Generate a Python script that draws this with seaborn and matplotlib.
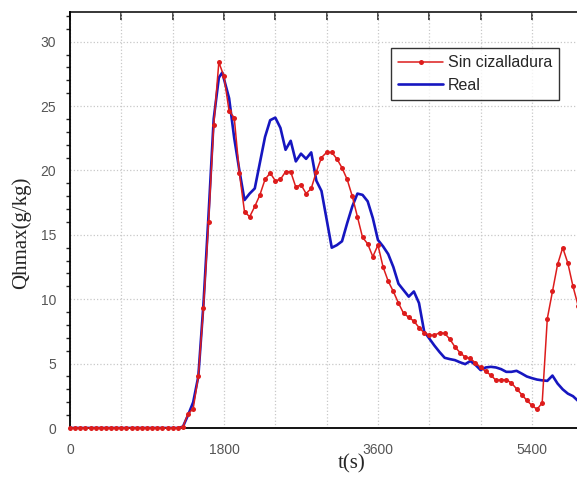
import numpy as np
import pandas as pd
import matplotlib
matplotlib.use("Agg")
import matplotlib.pyplot as plt
import seaborn as sns
from matplotlib.ticker import MultipleLocator

# red series: one value every 60 s
red_t = [60 * i for i in range(100)]
red_q = [0.0] * 22 + [
    0.1, 1.1, 1.5, 4.0, 9.3, 16.0, 23.5, 28.4, 27.3, 24.6,
    24.1, 19.8, 16.8, 16.4, 17.2, 18.1, 19.3, 19.8, 19.2, 19.3,
    19.9, 19.9, 18.7, 18.9, 18.2, 18.6, 19.9, 21.0, 21.4, 21.4,
    20.9, 20.2, 19.3, 18.0, 16.4, 14.8, 14.3, 13.3, 14.2, 12.5,
    11.4, 10.6, 9.7, 8.9, 8.6, 8.3, 7.8, 7.4, 7.2, 7.2,
    7.4, 7.35, 6.9, 6.3, 5.85, 5.5, 5.4, 5.05, 4.7, 4.4,
    4.1, 3.7, 3.75, 3.75, 3.5, 3.05, 2.6, 2.15, 1.75, 1.45,
    1.95, 8.5, 10.6, 12.7, 14.0, 12.8, 11.0, 9.5,
]

blue_t = [0, 1260, 1320, 1380, 1440, 1500, 1560, 1620, 1680, 1740, 1780,
          1860, 1920, 1980, 2040, 2100, 2160, 2220, 2280, 2340, 2400,
          2460, 2520, 2580, 2640, 2700, 2760, 2820, 2880, 2940, 3000,
          3060, 3120, 3180, 3240, 3300, 3360, 3420, 3480, 3540, 3600,
          3660, 3720, 3780, 3840, 3900, 3960, 4020, 4080, 4140, 4200,
          4260, 4320, 4380, 4440, 4500, 4560, 4620, 4680, 4740, 4800,
          4860, 4920, 4980, 5040, 5100, 5160, 5220, 5280, 5340, 5400,
          5460, 5520, 5580, 5640, 5700, 5760, 5820, 5880, 5940]
blue_q = [0.0, 0.0, 0.1, 1.0, 2.0, 4.0, 9.6, 16.6, 24.0, 27.2, 27.6,
          25.6, 22.5, 20.0, 17.7, 18.2, 18.6, 20.6, 22.6, 23.9, 24.1,
          23.3, 21.6, 22.3, 20.7, 21.3, 20.9, 21.4, 19.2, 18.4, 16.2,
          14.0, 14.2, 14.5, 15.9, 17.2, 18.2, 18.1, 17.6, 16.3, 14.6,
          14.1, 13.5, 12.5, 11.2, 10.7, 10.2, 10.6, 9.7, 7.5, 6.95,
          6.4, 5.9, 5.45, 5.35, 5.27, 5.1, 4.96, 5.2, 4.9, 4.5,
          4.7, 4.75, 4.7, 4.57, 4.36, 4.36, 4.44, 4.23, 4.0, 3.87,
          3.76, 3.7, 3.66, 4.07, 3.45, 3.0, 2.67, 2.47, 2.1]

x_labels = ["0", "1800", "3600", "5400"]

red_df = pd.DataFrame({"t": red_t, "q": red_q})
blue_df = pd.DataFrame({"t": blue_t, "q": blue_q})

sns.set_style("white")
plt.rcParams["font.family"] = ["Liberation Sans", "DejaVu Sans"]

fig = plt.figure(figsize=(5.77, 4.86), dpi=100)
ax = fig.add_axes([70 / 577, 1 - 428 / 486, 1 - 70 / 577, (428 - 12) / 486])

sns.lineplot(data=red_df, x="t", y="q", ax=ax, color="#dd1c1c", linewidth=1.1,
             marker="o", markersize=3.6, markeredgewidth=0, label="Sin cizalladura",
             clip_on=False, zorder=3)
sns.lineplot(data=blue_df, x="t", y="q", ax=ax, color="#1616c0", linewidth=1.9,
             label="Real", zorder=2)

ax.set_xlim(0, 5927)
ax.set_ylim(0, 32.3)

ax.xaxis.set_major_locator(MultipleLocator(600))
ax.set_xticklabels([x_labels[int(v // 1800)] if v % 1800 == 0 and v <= 5400 else ""
                    for v in ax.get_xticks()])
ax.yaxis.set_major_locator(MultipleLocator(5))
ax.yaxis.set_minor_locator(MultipleLocator(1))

ax.tick_params(axis="x", which="major", direction="out", length=6, width=1.2,
               labelsize=10, labelcolor="#555555", pad=5, top=False)
ax.tick_params(axis="y", which="major", direction="out", length=6, width=1.2,
               labelsize=10, labelcolor="#555555", pad=4)
ax.tick_params(axis="y", which="minor", direction="out", length=3, width=1, left=True)

# top axis ticks point inward
top = ax.secondary_xaxis("top")
top.set_xticks(np.arange(0, 6000, 600))
top.tick_params(direction="in", length=6, width=1.2, labeltop=False)
top.spines["top"].set_linewidth(1.3)

for s in ["left", "bottom"]:
    ax.spines[s].set_linewidth(1.3)
    ax.spines[s].set_color("black")
ax.spines["top"].set_visible(False)
ax.spines["right"].set_visible(False)

ax.grid(True, which="major", axis="both", color="#c8c8c8", linestyle=":", linewidth=0.9)

ax.set_xlabel("t(s)", family="Liberation Serif", fontsize=15)
ax.set_ylabel("Qhmax(g/kg)", family="Liberation Serif", fontsize=15)
ax.xaxis.set_label_coords(0.556, -0.062)
ax.yaxis.set_label_coords(-0.077, 0.47)

leg = ax.legend(loc="upper right", bbox_to_anchor=(0.965, 0.913), borderaxespad=0,
                fontsize=11.5, frameon=True, fancybox=False, edgecolor="black",
                handlelength=2.8, handletextpad=0.3, borderpad=0.45, labelspacing=0.45)
leg.get_frame().set_linewidth(1.0)

fig.savefig("out.png", dpi=100)
